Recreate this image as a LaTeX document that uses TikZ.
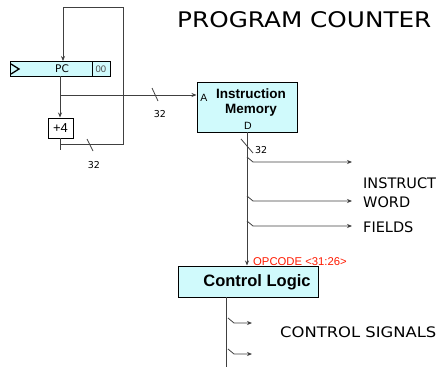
\documentclass[tikz,border=0pt]{standalone}
\usepackage{fontspec}
\setmainfont{Liberation Sans}
\newfontfamily\comic{DejaVu Sans}
\usetikzlibrary{arrows.meta}
\definecolor{blkfill}{RGB}{208,250,252}
\begin{document}
\begin{tikzpicture}[x=1pt,y=-1pt,
  wire/.style={line width=0.8pt,draw=black!75},
  arr/.style={wire,-{Stealth[length=5pt,width=4pt]}},
  blk/.style={draw,line width=1pt,fill=blkfill},
  lbl/.style={font=\comic\fontsize{9.5}{10}\selectfont,inner sep=0pt},
  sig/.style={font=\comic\fontsize{14.5}{15}\selectfont,inner sep=0pt,anchor=west}]
\useasboundingbox (0,0) rectangle (437,367);
% title
\node[font=\comic\fontsize{21.5}{22}\selectfont,anchor=west,inner sep=0pt] (title) at (177,20) {\scalebox{1.15}[1]{PROGRAM COUNTER}};
% PC register
\node[blk,minimum width=82pt,minimum height=15pt,inner sep=0pt] (pc) at (51,68.5) {};
\node[blk,minimum width=18pt,minimum height=15pt,inner sep=0pt] (pc0) at (101,68.5) {};
\node[font=\comic\fontsize{10.5}{11}\selectfont,inner sep=0pt] (pct) at (62,69) {PC};
\node[font=\fontsize{9.5}{10}\selectfont,inner sep=0pt,text=black!70] (pc0t) at (101,69) {00};
\draw[line width=1.3pt] (11,64) -- (19,69) -- (11,74);
% +4
\node[blk,fill=white,minimum width=25pt,minimum height=20pt,inner sep=0pt] (p4) at (60.5,128) {};
\node[font=\fontsize{13}{14}\selectfont,inner sep=0pt] (p4t) at (60.5,128.5) {+4};
% coordinates for loop
\coordinate (tl) at (63,7);
\coordinate (tr) at (123,7);
\coordinate (br) at (123,144);
\coordinate (bl) at (60,144);
\coordinate (be) at (60,150);
\coordinate (pcb) at (60,76);
\coordinate (jn) at (60,95);
% instruction memory
\node[blk,minimum width=100pt,minimum height=50pt,inner sep=0pt] (im) at (247,107) {};
\node[font=\bfseries\fontsize{13.5}{15}\selectfont,align=center,inner sep=0pt] (imt) at (251,103) {Instruction\\Memory};
\node[lbl,font=\fontsize{10.5}{11}\selectfont] (ima) at (204,98) {A};
\node[lbl,font=\fontsize{10.5}{11}\selectfont] (imd) at (248,125.5) {D};
% loop wires
\draw[arr] (tr) -- (tl) -- (63,61);
\draw[wire] (bl) -- (br) -- (tr);
\draw[wire] (60,138) -- (be);
\draw[arr] (pcb) -- (p4.north -| pcb);
\draw[arr] (jn) -- (im.west |- jn);
% slashes
\draw[wire] (152,88) -- (158,101);
\node[lbl] (w1) at (160,114) {32};
\draw[wire] (87,139) -- (93,151);
\node[lbl] (w2) at (94,165) {32};
% control logic
\node[blk,minimum width=140pt,minimum height=31pt,inner sep=0pt] (cl) at (248,281.5) {};
\node[font=\bfseries\fontsize{16.5}{17}\selectfont,inner sep=0pt] (clt) at (257,282) {Control Logic};
\coordinate (dtop) at (247,132);
\draw[arr] (dtop) -- (cl.north -| dtop);
\node[lbl,text=red!80!orange,font=\fontsize{11.3}{12}\selectfont,anchor=west] (op) at (253,262) {OPCODE <31:26>};
\draw[wire] (241,139) -- (253,153);
\node[lbl,anchor=west] (w3) at (255,150) {32};
% field branches
\foreach \yy/\nm in {162/a,201/b,226/c}{
  \coordinate (s\nm) at (247,\yy-5);
  \coordinate (e\nm) at (352,\yy);
  \draw[arr] (s\nm) -- (253,\yy) -- (e\nm);
}
\node[sig] (f1) at (363,183) {INSTRUCT};
\node[sig] (f2) at (363,202) {WORD};
\node[sig] (f3) at (363,227) {FIELDS};
% control signals
\coordinate (cb) at (226,297);
\draw[wire] (cb) -- (226,367);
\foreach \yy/\nm in {323/d,354/e}{
  \coordinate (t\nm) at (228,\yy-5);
  \draw[arr] (t\nm) -- (234,\yy) -- (252,\yy);
}
\node[sig] (cs) at (280,332) {\scalebox{1.13}[1]{CONTROL SIGNALS}};
\end{tikzpicture}
\end{document}
